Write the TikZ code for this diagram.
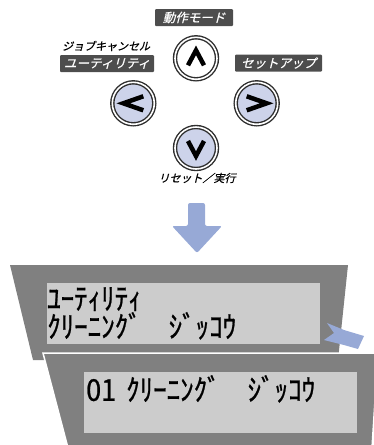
\documentclass[tikz,border=0pt]{standalone}
\usepackage{fontspec}
\usepackage{tikz}
\setmainfont{Noto Sans CJK JP}
\newfontfamily\jplabel[FakeSlant=0.25,FakeBold=0.6]{Noto Sans CJK JP}
\newfontfamily\lcdfont[FakeStretch=0.9,FakeBold=0.8]{Noto Sans CJK JP}
\definecolor{labelgray}{HTML}{4D4D4D}
\definecolor{panelgray}{HTML}{808080}
\definecolor{lcdgray}{HTML}{CCCCCC}
\definecolor{keyblue}{HTML}{CDD3EA}
\definecolor{arrowblue}{HTML}{97A9D6}
\definecolor{ringgray}{HTML}{2E2E2E}
\tikzset{
  keylabel/.style={fill=labelgray, text=white, font=\jplabel\fontsize{12.5}{13}\selectfont,
    rounded corners=1pt, inner xsep=4pt, minimum height=17pt, inner ysep=0pt},
  keytext/.style={text=black, font=\jplabel\fontsize{11}{12}\selectfont, inner sep=0pt},
  keybtn/.style={circle, draw=ringgray, double=white, double distance=1.6pt,
    line width=1.4pt, minimum size=42pt, inner sep=0pt},
  chevron/.style={line width=4.5pt, miter limit=10},
  lcdtext/.style={font=\lcdfont\fontsize{30}{27}\selectfont, align=left, inner sep=0pt,
    anchor=north west}
}
\begin{document}
\begin{tikzpicture}[x=1pt, y=-1pt]
  \useasboundingbox (0,0) rectangle (374,445);
  % Key labels
  \node[keylabel, minimum width=78pt] (modelbl) at (194,17.5) {動作モード};
  \node[keytext] (cancellbl) at (106,46) {ジョブキャンセル};
  \node[keylabel, minimum width=92pt] (utillbl) at (107,63.5) {ユーティリティ};
  \node[keylabel, minimum width=87pt] (setuplbl) at (278.5,63) {セットアップ};
  \node[keytext] (resetlbl) at (197,178) {リセット／実行};
  % Keys
  \node[keybtn, fill=white] (up) at (196,58.3) {};
  \node[keybtn, fill=keyblue] (left) at (133.3,103.3) {};
  \node[keybtn, fill=keyblue] (right) at (256.7,103.3) {};
  \node[keybtn, fill=keyblue] (down) at (196,148) {};
  \draw[chevron] (up) ++(-8,7) -- ++(8,-15) -- ++(8,15);
  \draw[chevron] (down) ++(-8,-7) -- ++(8,15) -- ++(8,-15);
  \draw[chevron] (left) ++(10,-7) -- ++(-20,7) -- ++(20,7);
  \draw[chevron] (right) ++(-10,-7) -- ++(20,7) -- ++(-20,7);
  % Arrow down
  \fill[arrowblue, rounded corners=2pt]
    (188,203) -- (205,203) -- (205,226) -- (222,226) -- (197,253) -- (172,226) -- (188,226) -- cycle;
  % Upper panel
  \fill[panelgray] (10,265) -- (348,265) -- (338,360) -- (33,360) -- cycle;
  \fill[lcdgray] (47,283) rectangle (320,344);
  \node[lcdtext] (lcdup) at (47,287) {ﾕｰﾃｨﾘﾃｨ\\ｸﾘｰﾆﾝｸﾞ　ｼﾞｯｺｳ};
  % Small arrow
  \fill[arrowblue] (327,323) -- (344,330) -- (364,336) -- (358,349)
    -- (344,345) -- (324,340) -- (334,333) -- cycle;
  % Lower panel
  \filldraw[panelgray, draw=white, line width=1.5pt]
    (43,353) -- (378,353) -- (372,448) -- (68,448) -- cycle;
  \fill[lcdgray] (84,372) rectangle (357,433);
  \node[lcdtext] (lcdlow) at (86,375) {01\hspace{10pt}ｸﾘｰﾆﾝｸﾞ　ｼﾞｯｺｳ};
\end{tikzpicture}
\end{document}
